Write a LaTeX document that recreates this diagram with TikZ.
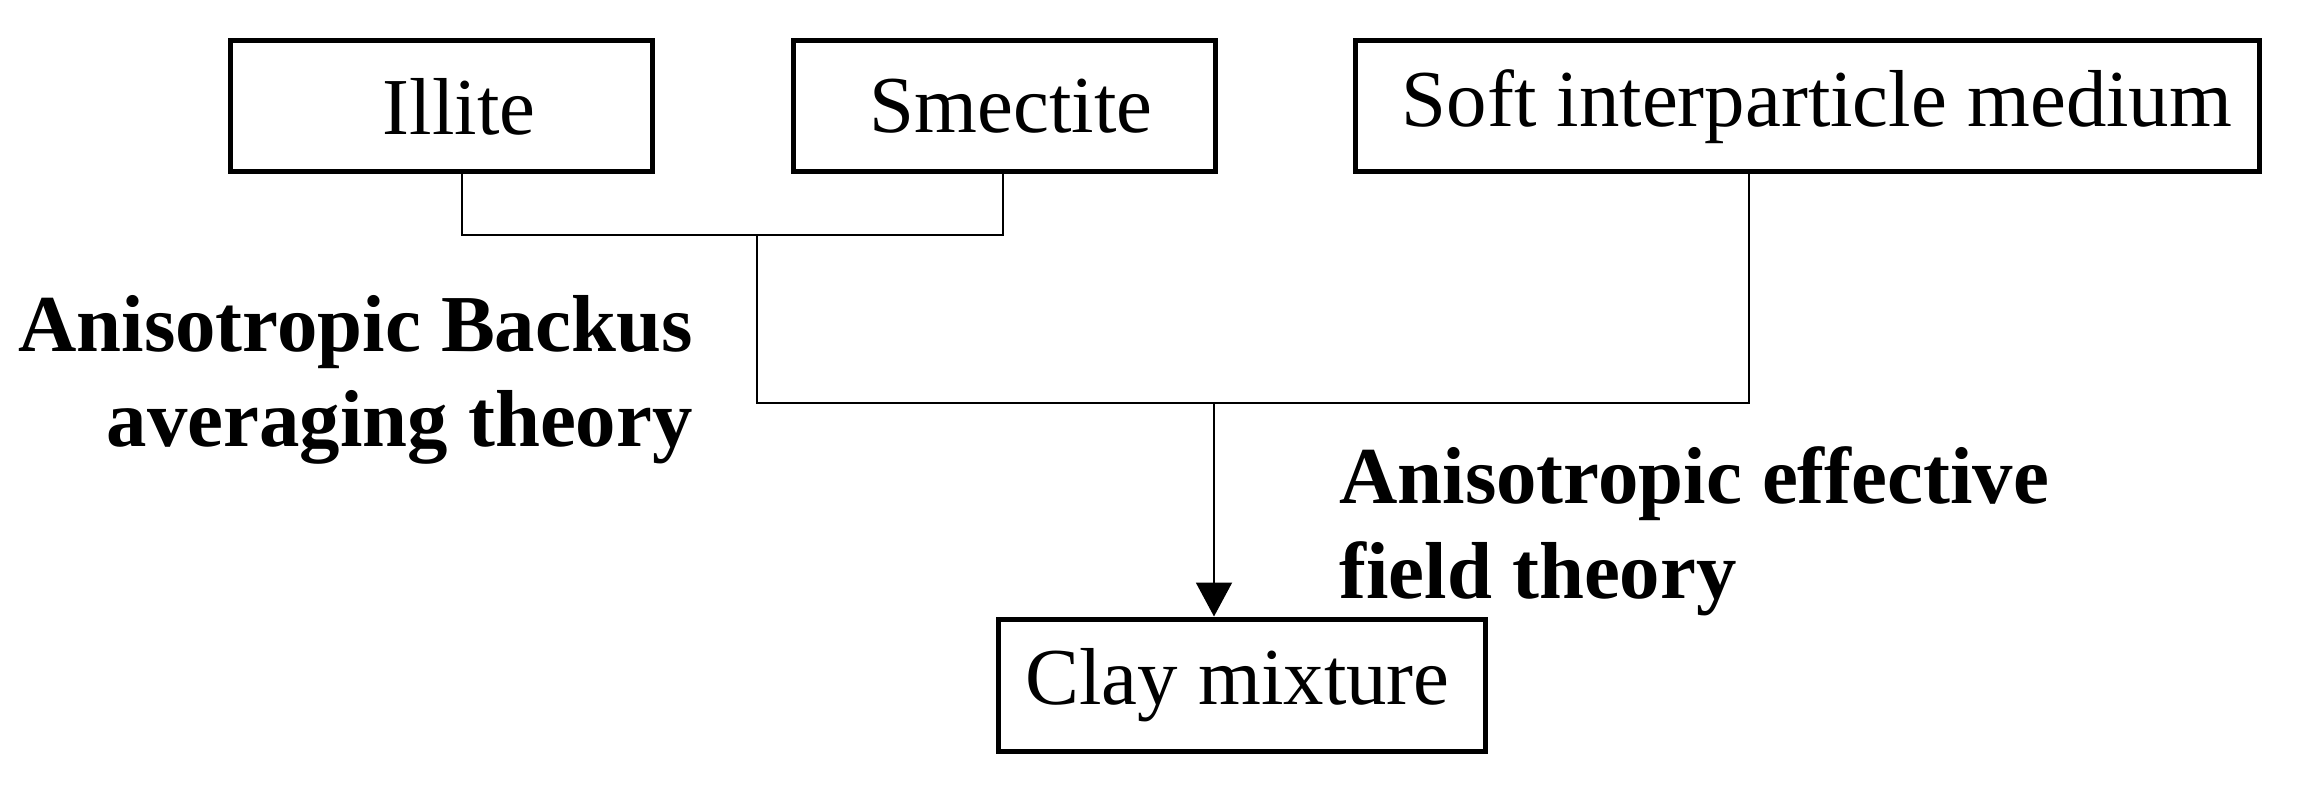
\documentclass[tikz,border=0pt]{standalone}
\usepackage{fontspec}
\setmainfont{Liberation Serif}
\usetikzlibrary{arrows.meta}
\begin{document}
\begin{tikzpicture}[x=0.5pt,y=-0.5pt,
  box/.style={draw,line width=2.5pt,minimum height=65.5pt,inner sep=0pt,font=\fontsize{40.4}{48}\selectfont},
  conn/.style={line width=1pt},
  lbl/.style={inner sep=0pt,font=\fontsize{40.4}{47.6}\selectfont\bfseries}]
\useasboundingbox (0,0) rectangle (2299,802);
\node[box,minimum width=211pt] (ill) at (441,106.5) {\hspace*{18pt}Illite};
\node[box,minimum width=211pt] (sme) at (1004,106.5) {\hspace*{7pt}Smectite};
\node[box,minimum width=452pt] (soft) at (1807,106.5) {\hspace*{10pt}Soft interparticle medium};
\node[box,minimum width=243.5pt,minimum height=66pt] (clay) at (1241.5,685) {Clay mixture\hspace*{4pt}};
\coordinate (j1) at (757,235);
\coordinate (j2) at (1214,403);
\draw[conn] (ill.south -| 462,0) |- (j1) -| (sme.south -| 1003,0);
\draw[conn] (j1) |- (j2) -| (soft.south -| 1749,0);
\draw[conn,-{Triangle[width=18pt,length=17pt]}] (j2) -- (clay.north -| j2);
\node[lbl,align=right,anchor=east] (backus) at (693,380) {Anisotropic Backus\\averaging theory};
\node[lbl,align=left,anchor=west] (eff) at (1339,531) {Anisotropic effective\\field theory};
\end{tikzpicture}
\end{document}
